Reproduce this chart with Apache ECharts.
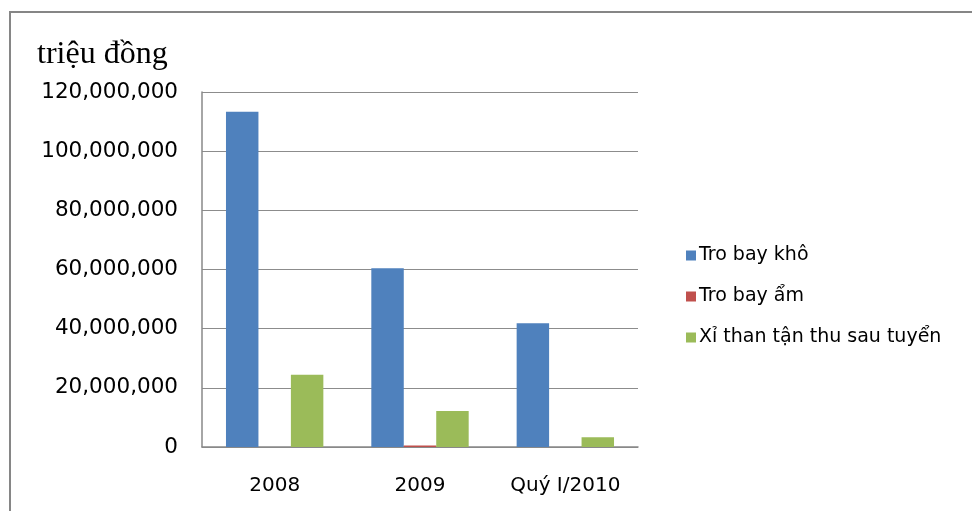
<!DOCTYPE html>
<html>
<head>
<meta charset="utf-8">
<script src="https://cdn.jsdelivr.net/npm/echarts@6/dist/echarts.min.js"></script>
<style>
  html, body { margin: 0; padding: 0; background: #fff; }
  #chart { width: 972px; height: 511px; }
</style>
</head>
<body>
<div id="chart"></div>
<script>
  const categories = ['2008', '2009', 'Quý I/2010'];
  const seriesNames = ['Tro bay khô', 'Tro bay ẩm', 'Xỉ than tận thu sau tuyển'];
  const troBayKho = [113300000, 60400000, 41800000];
  const troBayAm = [0, 500000, 0];
  const xiThan = [24400000, 12200000, 3300000];
  const colors = ['#4F81BD', '#C0504D', '#9BBB59'];

  const chart = echarts.init(document.getElementById('chart'));

  // nhãn trục tung kiểu 120,000,000
  const fmt = v => String(v).replace(/\B(?=(\d{3})+(?!\d))/g, ',');

  const option = {
    animation: false,
    graphic: [
      {
        type: 'rect',
        shape: { x: 10, y: 12, width: 1000, height: 600 },
        style: { fill: 'none', stroke: '#868686', lineWidth: 2 },
      },
      {
        type: 'text',
        left: 37,
        top: 39,
        style: {
          text: 'triệu đồng',
          font: '32px "Liberation Serif", serif',
          fill: '#000',
        },
      },
    ],
    grid: { left: 202, right: 334, top: 92, bottom: 64 },
    legend: {
      orient: 'vertical',
      left: 681,
      top: 241,
      itemWidth: 10,
      itemHeight: 10,
      itemGap: 22,
      icon: 'rect',
      textStyle: {
        fontFamily: 'DejaVu Sans',
        fontSize: 19,
        color: '#000',
        padding: [0, 0, 0, -2],
      },
      data: seriesNames,
    },
    xAxis: {
      type: 'category',
      data: categories,
      axisLine: { lineStyle: { color: '#888', width: 1.5 } },
      axisTick: { show: false },
      axisLabel: {
        interval: 0,
        hideOverlap: false,
        margin: 29,
        color: '#000',
        fontFamily: 'DejaVu Sans',
        fontSize: 20,
      },
    },
    yAxis: {
      type: 'value',
      min: 0,
      max: 120000000,
      interval: 20000000,
      axisLine: { show: true, lineStyle: { color: '#888', width: 1.5 } },
      axisTick: { show: false },
      splitLine: { lineStyle: { color: '#8c8c8c', width: 1 } },
      axisLabel: {
        margin: 24,
        color: '#000',
        fontFamily: 'DejaVu Sans',
        fontSize: 21.5,
        formatter: fmt,
      },
    },
    series: [
      { name: seriesNames[0], data: troBayKho },
      { name: seriesNames[1], data: troBayAm },
      { name: seriesNames[2], data: xiThan },
    ].map((s, i) => ({
      ...s,
      type: 'bar',
      barGap: '0%',
      barCategoryGap: '33%',
      itemStyle: { color: colors[i] },
    })),
  };
  chart.setOption(option);
</script>
</body>
</html>
